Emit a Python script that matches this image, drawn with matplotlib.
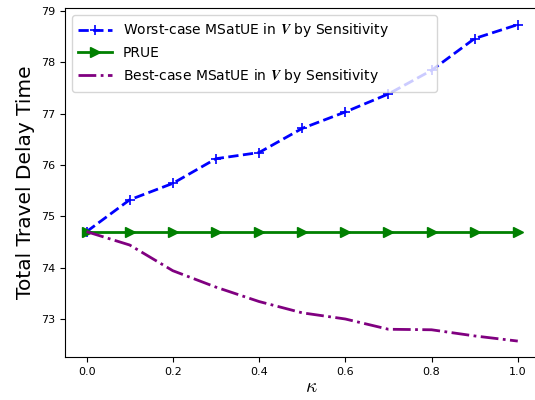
import numpy as np
import matplotlib
matplotlib.use("Agg")
import matplotlib.pyplot as plt

plt.rcParams['mathtext.fontset'] = 'cm'

kappa = [0.0, 0.1, 0.2, 0.3, 0.4, 0.5, 0.6, 0.7, 0.8, 0.9, 1.0]
worst = [74.70, 75.32, 75.64, 76.12, 76.24, 76.71, 77.03, 77.38, 77.84, 78.46, 78.73]
prue = [74.70] * 11
best = [74.70, 74.44, 73.94, 73.62, 73.34, 73.12, 73.00, 72.80, 72.79, 72.67, 72.57]

fig = plt.figure(figsize=(5.35, 4.0), dpi=100)
ax = fig.add_axes([0.1215, 0.1075, 0.92, 0.872])

ax.plot(kappa, worst, '--', color='blue', marker='+', markersize=7, mew=1.2, lw=2,
        label=r'Worst-case MSatUE in $\boldsymbol{V}$ by Sensitivity')
ax.plot(kappa, prue, '-', color='green', marker='>', markersize=7, lw=2,
        label='PRUE')
ax.plot(kappa, best, '-.', color='purple', lw=2,
        label=r'Best-case MSatUE in $\boldsymbol{V}$ by Sensitivity')

# axes run past the right edge of the figure, like the cropped original
ax.set_xlim(-0.05, -0.05 + 1.1 * 0.92 / 0.8866)
ax.set_ylim(72.26, 79.05)
ax.set_xticks([0.0, 0.2, 0.4, 0.6, 0.8, 1.0])
ax.tick_params(labelsize=8)
ax.set_xlabel(r'$\kappa$', fontsize=14, labelpad=0)
ax.set_ylabel('Total Travel Delay Time', fontsize=14.5)
ax.legend(loc='upper left', fontsize=10, bbox_to_anchor=(0, 0, 0.77, 1),
          mode='expand', handlelength=2.4, borderpad=0.45, labelspacing=0.5)

fig.savefig('out.png', dpi=100)
